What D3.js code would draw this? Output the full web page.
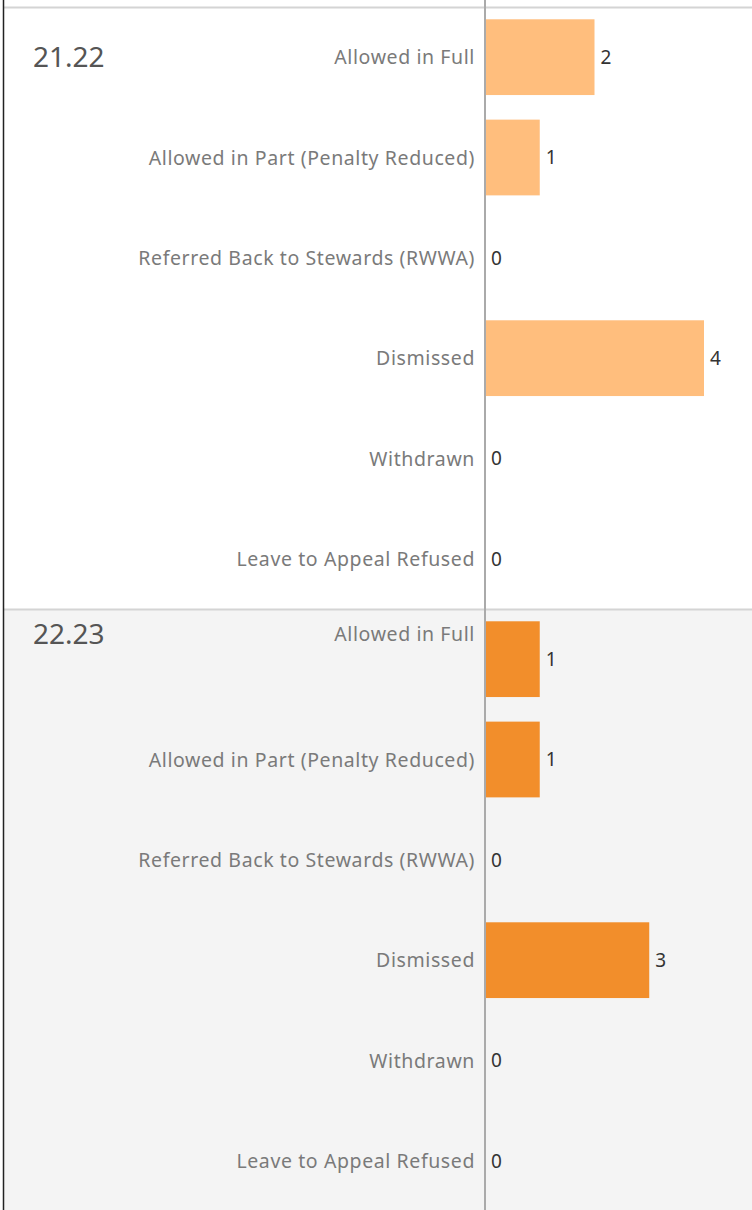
<!DOCTYPE html>
<html>
<head>
<meta charset="utf-8">
<script src="https://d3js.org/d3.v7.min.js"></script>
<style>
  body { margin: 0; background: #fff; }
  svg { display: block; font-family: "Noto Sans", sans-serif; }
</style>
</head>
<body>
<div id="chart-area"></div>
<script>
// data
var seasons = ["21.22", "22.23"];
var outcomes = ["Allowed in Full", "Allowed in Part (Penalty Reduced)", "Referred Back to Stewards (RWWA)",
    "Dismissed", "Withdrawn", "Leave to Appeal Refused"];
var counts2122 = [2, 1, 0, 4, 0, 0];
var counts2223 = [1, 1, 0, 3, 0, 0];
var barColors = ["#ffbe7d", "#f28e2b"];

var width = 752, height = 1210;
var panelTop = 7, panelH = 602;
var axisX = 485;

var svg = d3.select("#chart-area").append("svg")
    .attr("width", width)
    .attr("height", height);

var x = d3.scaleLinear()
    .domain([0, 4])
    .range([axisX, 704]);

var y = d3.scaleBand()
    .domain(outcomes)
    .range([0, panelH])
    .paddingInner(0.245)
    .paddingOuter(0.1225);

var panels = [counts2122, counts2223];

panels.forEach(function(vals, i){
    var top = panelTop + i * panelH;
    var g = svg.append("g")
        .attr("transform", "translate(0," + top + ")");

    if (i === 1) {
        g.append("rect")
            .attr("x", 4).attr("y", 0)
            .attr("width", width - 4).attr("height", height - top)
            .attr("fill", "#f4f4f4");
    }

    g.append("line")
        .attr("x1", 4).attr("x2", width)
        .attr("y1", 0.5).attr("y2", 0.5)
        .attr("stroke", "#d4d4d4")
        .attr("stroke-width", 2);

    var data = outcomes.map(function(o, j){ return {outcome: o, value: vals[j]}; });

    g.selectAll(".bar")
        .data(data)
        .enter().append("rect")
        .attr("class", "bar")
        .attr("x", x(0))
        .attr("y", function(d){ return y(d.outcome); })
        .attr("width", function(d){ return x(d.value) - x(0); })
        .attr("height", y.bandwidth())
        .attr("fill", barColors[i]);

    g.selectAll(".val")
        .data(data)
        .enter().append("text")
        .attr("class", "val")
        .attr("x", function(d){ return x(d.value) + 6; })
        .attr("y", function(d){ return y(d.outcome) + y.bandwidth() / 2; })
        .attr("dy", "0.36em")
        .attr("fill", "#333")
        .style("font-size", "19px")
        .text(function(d){ return d.value; });

    // first label of the lower pane sits higher, as in the source
    var labelY = function(j){
        var c = y(outcomes[j]) + y.bandwidth() / 2;
        return (i === 1 && j === 0) ? 25 : c;
    };

    g.selectAll(".cat")
        .data(outcomes)
        .enter().append("text")
        .attr("class", "cat")
        .attr("x", axisX - 10)
        .attr("y", function(d, j){ return labelY(j); })
        .attr("dy", "0.36em")
        .attr("text-anchor", "end")
        .attr("fill", "#7a7a7a")
        .style("font-size", "19.5px")
        .style("letter-spacing", "0.6px")
        .text(function(d){ return d; });

    g.append("text")
        .attr("x", 33)
        .attr("y", labelY(0))
        .attr("dy", "0.36em")
        .attr("fill", "#555")
        .style("font-size", "28px")
        .text(seasons[i]);
});

// axis line and left border
svg.append("line")
    .attr("x1", axisX).attr("x2", axisX)
    .attr("y1", 0).attr("y2", height)
    .attr("stroke", "#aaa")
    .attr("stroke-width", 2);

svg.append("line")
    .attr("x1", 3.5).attr("x2", 3.5)
    .attr("y1", 0).attr("y2", height)
    .attr("stroke", "#222")
    .attr("stroke-width", 1.5);
</script>
</body>
</html>
